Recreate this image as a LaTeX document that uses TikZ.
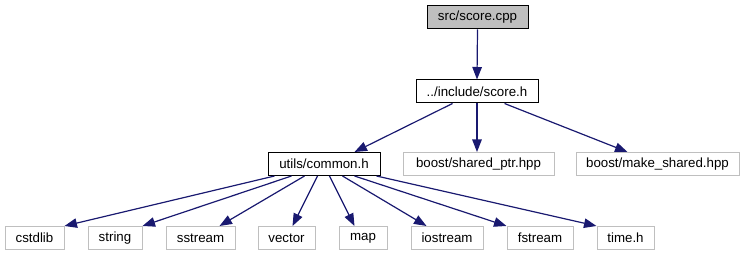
\documentclass[tikz,border=0pt]{standalone}
\usepackage{fontspec}
\setmainfont{Liberation Sans}
\usetikzlibrary{arrows.meta,calc}
\definecolor{edgeblue}{HTML}{191970}
\definecolor{lightframe}{HTML}{BFBFBF}
\tikzset{
  filebox/.style={draw=lightframe, line width=1pt, inner sep=0pt, minimum height=23pt,
    font=\fontsize{13.3}{15}\selectfont, text=black},
  mainbox/.style={filebox, draw=black},
  rootbox/.style={filebox, draw=black, fill=lightframe},
  dep/.style={draw=edgeblue, line width=1.2pt, -{Triangle[length=12.5pt,width=9.5pt]}},
}
\begin{document}
\begin{tikzpicture}[x=1pt,y=-1pt]
  \useasboundingbox (0,0) rectangle (745,256);
  % include chain
  \node[rootbox, minimum width=101pt] (cpp)    at (477.5,17.5) {src/score.cpp};
  \node[mainbox, minimum width=122pt] (scoreh) at (477,91.5)   {../include/score.h};
  \node[mainbox, minimum width=112pt] (common) at (324,164)    {utils/common.h};
  \node[filebox, minimum width=151pt] (sptr)   at (478.5,164)  {boost/shared\_ptr.hpp};
  \node[filebox, minimum width=163pt] (mkshr)  at (657.5,164)  {boost/make\_shared.hpp};
  % standard headers
  \node[filebox, minimum width=59pt] (cstdlib)  at (34.5,238)  {cstdlib};
  \node[filebox, minimum width=54pt] (string)   at (115,238)   {string};
  \node[filebox, minimum width=69pt] (sstream)  at (200.5,238) {sstream};
  \node[filebox, minimum width=57pt] (vector)   at (286.5,238) {vector};
  \node[filebox, minimum width=48pt] (map)      at (363,238)   {map};
  \node[filebox, minimum width=72pt] (iostream) at (447,238)   {iostream};
  \node[filebox, minimum width=66pt] (fstream)  at (540,238)   {fstream};
  \node[filebox, minimum width=57pt] (timeh)    at (625.5,238) {time.h};

  \draw[dep] (cpp.south) -- (scoreh.north);
  \draw[dep] ($(scoreh.south west)+(37,0)$) -- ($(common.north west)+(87,0)$);
  \draw[dep] (scoreh.south) -- (scoreh.south |- sptr.north);
  \draw[dep] ($(scoreh.south west)+(89,0)$) -- ($(mkshr.north west)+(52,0)$);

  \draw[dep] ($(common.south west)+(7,0)$)   -- (cstdlib.north east);
  \draw[dep] ($(common.south west)+(24,0)$)  -- (string.north east);
  \draw[dep] ($(common.south west)+(37,0)$)  -- ($(sstream.north west)+(54,0)$);
  \draw[dep] ($(common.south west)+(50,0)$)  -- ($(vector.north west)+(35,0)$);
  \draw[dep] ($(common.south west)+(62,0)$)  -- ($(map.north west)+(16,0)$);
  \draw[dep] ($(common.south west)+(75,0)$)  -- ($(iostream.north west)+(16,0)$);
  \draw[dep] ($(common.south west)+(87,0)$)  -- (fstream.north west);
  \draw[dep] ($(common.south west)+(109,0)$) -- (timeh.north west);
\end{tikzpicture}
\end{document}
